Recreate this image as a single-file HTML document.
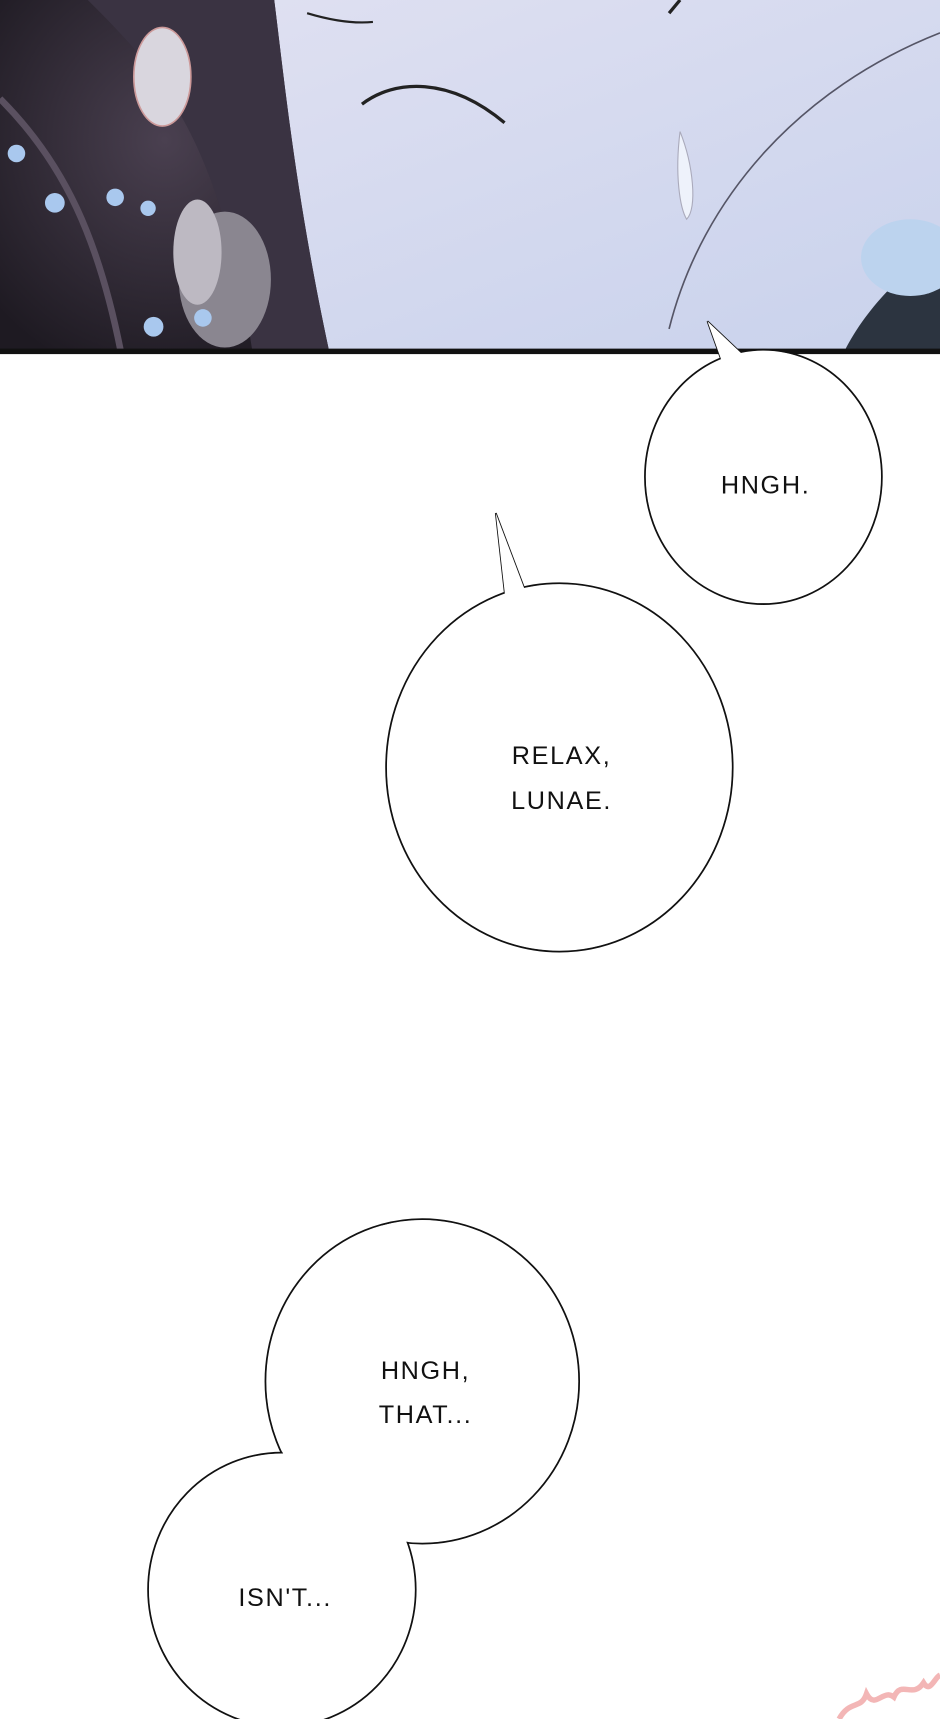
<!DOCTYPE html>
<html><head><meta charset="utf-8">
<style>
html,body{margin:0;padding:0;background:#fff;}
svg{display:block;}
text{font-family:"Liberation Sans",sans-serif;font-size:23px;fill:#111;letter-spacing:1.5px;}
</style></head>
<body>
<svg width="940" height="1719" viewBox="0 0 857 1568" preserveAspectRatio="none" xmlns="http://www.w3.org/2000/svg">
<defs>
<linearGradient id="face" x1="0" y1="0" x2="1" y2="1">
<stop offset="0" stop-color="#e2e2f2"/><stop offset="1" stop-color="#c9d2ec"/>
</linearGradient>
<radialGradient id="hair" cx="0.5" cy="0.4" r="0.7">
<stop offset="0" stop-color="#4a4050"/><stop offset="1" stop-color="#1e1a22"/>
</radialGradient>
</defs>
<rect x="0" y="0" width="857" height="320" fill="url(#face)"/>
<path d="M0,0 L250,0 C260,80 270,180 300,320 L0,320 Z" fill="url(#hair)"/>
<path d="M80,0 C140,60 200,120 230,320 L300,320 C270,180 260,80 250,0 Z" fill="#3a3342"/>
<ellipse cx="148" cy="70" rx="26" ry="45" fill="#d9d6de" stroke="#c99" stroke-width="1.5"/>
<ellipse cx="205" cy="255" rx="42" ry="62" fill="#8a8690"/>
<ellipse cx="180" cy="230" rx="22" ry="48" fill="#bdb9c2"/>
<path d="M0,90 C60,150 90,220 110,320" stroke="#5a5060" stroke-width="6" fill="none"/>
<g fill="#a9c8ee"><circle cx="15" cy="140" r="8"/><circle cx="50" cy="185" r="9"/><circle cx="105" cy="180" r="8"/><circle cx="135" cy="190" r="7"/><circle cx="140" cy="298" r="9"/><circle cx="185" cy="290" r="8"/></g>
<path d="M330,95 C360,72 410,70 460,112" stroke="#222" stroke-width="3" fill="none"/>
<path d="M280,12 C300,18 320,22 340,20" stroke="#222" stroke-width="2" fill="none"/>
<path d="M610,300 C640,180 730,80 857,30" stroke="#556" stroke-width="1.5" fill="none"/>
<path d="M770,320 C790,280 830,240 857,230 L857,320 Z" fill="#2c3440"/>
<ellipse cx="830" cy="235" rx="45" ry="35" fill="#bcd3ee"/>
<path d="M620,0 L610,12" stroke="#222" stroke-width="3"/>
<path d="M620,120 C615,160 620,190 626,200 C636,190 632,150 620,120" fill="#eef2fb" stroke="#aab" />
<rect x="0" y="318" width="857" height="5" fill="#111"/>

<!-- bubble 1 -->
<path d="M660,335 L645,293 L684,330" fill="#fff" stroke="#111" stroke-width="1.6"/>
<ellipse cx="696" cy="435" rx="108" ry="116" fill="#fff" stroke="#111" stroke-width="1.6"/>
<path d="M660,335 L645,293 L684,330 Z" fill="#fff"/>
<ellipse cx="696" cy="435" rx="107" ry="115" fill="#fff"/>
<text x="698" y="450" text-anchor="middle">HNGH.</text>

<!-- bubble 2 -->
<path d="M461,548 L452,468 L480,542" fill="#fff" stroke="#111" stroke-width="1.6"/>
<ellipse cx="510" cy="700" rx="158" ry="168" fill="#fff" stroke="#111" stroke-width="1.6"/>
<path d="M461,548 L452,468 L480,542 Z" fill="#fff"/>
<ellipse cx="510" cy="700" rx="157" ry="167" fill="#fff"/>
<text x="512" y="697" text-anchor="middle">RELAX,</text>
<text x="512" y="738" text-anchor="middle">LUNAE.</text>

<ellipse cx="385" cy="1260" rx="143" ry="148" fill="#fff" stroke="#111" stroke-width="1.6"/>
<ellipse cx="257" cy="1450" rx="122" ry="125" fill="#fff" stroke="#111" stroke-width="1.6"/>
<ellipse cx="385" cy="1260" rx="142" ry="147" fill="#fff"/>
<ellipse cx="257" cy="1450" rx="121" ry="124" fill="#fff"/>
<text x="388" y="1258" text-anchor="middle">HNGH,</text>
<text x="388" y="1298" text-anchor="middle">THAT...</text>
<text x="260" y="1465" text-anchor="middle">ISN'T...</text>

<path d="M765,1568 C775,1550 785,1560 790,1545 C798,1560 805,1540 815,1548 C822,1532 832,1550 842,1535 C848,1545 852,1530 857,1528" stroke="#f3b6b6" stroke-width="5" fill="none"/>
</svg>
</body></html>
